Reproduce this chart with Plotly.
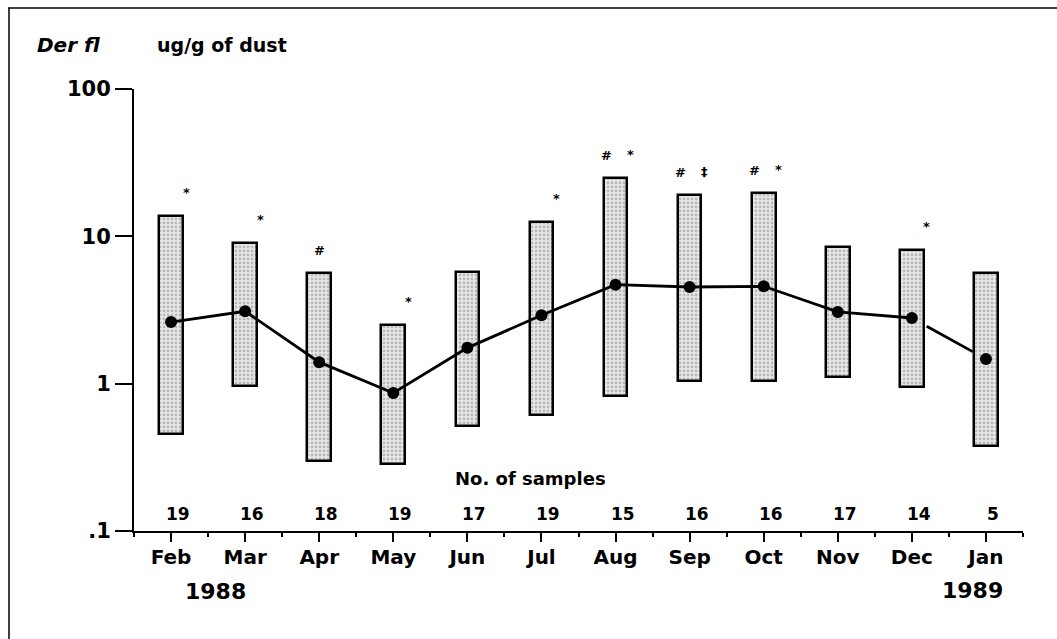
import math
import plotly.graph_objects as go

months = ["Feb", "Mar", "Apr", "May", "Jun", "Jul", "Aug", "Sep", "Oct", "Nov", "Dec", "Jan"]
high = [13.8, 9.0, 5.6, 2.5, 5.7, 12.6, 24.9, 19.0, 19.7, 8.5, 8.1, 5.6]
low = [0.455, 0.96, 0.297, 0.286, 0.513, 0.616, 0.83, 1.04, 1.04, 1.11, 0.95, 0.38]
median = [2.62, 3.10, 1.40, 0.865, 1.75, 2.91, 4.70, 4.53, 4.58, 3.07, 2.79, 1.47]
n_samples = [19, 16, 18, 19, 17, 19, 15, 16, 16, 17, 14, 5]
mark_left = ["", "", "#", "", "", "", "#", "#", "#", "", "", ""]
mark_right = ["*", "*", "", "*", "", "*", "*", "‡", "*", "", "*", ""]
ytick_vals = [0.1, 1, 10, 100]
ytick_text = [".1", "1", "10", "100"]
years = ["1988", "1989"]

FONT = "DejaVu Sans"
idx = list(range(len(months)))

W, H = 1057, 639
L, R, T, B = 134, 34, 89, 108
pw, ph = W - L - R, H - T - B


def px(xp):
    return (xp - L) / pw


def py(yp):
    return (H - B - yp) / ph


fig = go.Figure()

# boxes (range bars)
fig.add_trace(go.Bar(
    x=idx,
    y=[h - l for h, l in zip(high, low)],
    base=low,
    width=0.32,
    marker=dict(
        color="#e0e0e0",
        line=dict(color="black", width=2.5),
        pattern=dict(shape=".", size=4, solidity=0.4, fgcolor="#8a8a8a", bgcolor="#e9e9e9"),
    ),
    showlegend=False,
    hoverinfo="skip",
))

# median line Feb..Dec
fig.add_trace(go.Scatter(
    x=idx[:11], y=median[:11], mode="lines+markers",
    line=dict(color="black", width=2.8),
    marker=dict(color="black", size=12),
    showlegend=False,
))

# broken segment Dec -> Jan
l0, l1 = math.log10(median[10]), math.log10(median[11])
seg_t = [0.2, 0.82]
fig.add_trace(go.Scatter(
    x=[10 + t for t in seg_t],
    y=[10 ** (l0 + t * (l1 - l0)) for t in seg_t],
    mode="lines", line=dict(color="black", width=2.8),
    showlegend=False,
))
fig.add_trace(go.Scatter(
    x=[11], y=[median[11]], mode="markers",
    marker=dict(color="black", size=12), showlegend=False,
))

ann = []
for i in idx:
    top = math.log10(high[i])
    if mark_left[i]:
        both = bool(mark_right[i])
        ann.append(dict(x=i, y=top, xref="x", yref="y", text="<b>" + mark_left[i] + "</b>",
                        showarrow=False, xshift=-9 if both else 0, yshift=13, yanchor="bottom",
                        font=dict(family=FONT, size=13, color="black")))
    if mark_right[i]:
        ann.append(dict(x=i, y=top, xref="x", yref="y", text="<b>" + mark_right[i] + "</b>",
                        showarrow=False, xshift=15, yshift=14, yanchor="bottom",
                        font=dict(family=FONT, size=13, color="black")))
    ann.append(dict(x=i, y=py(514), xref="x", yref="paper", text="<b>%d</b>" % n_samples[i],
                    showarrow=False, xshift=7, yanchor="middle",
                    font=dict(family=FONT, size=17, color="black")))

ann.append(dict(x=px(530), y=py(478), xref="paper", yref="paper", text="<b>No. of samples</b>",
                showarrow=False, yanchor="middle", xanchor="center",
                font=dict(family=FONT, size=18, color="black")))
ann.append(dict(x=px(215), y=py(591), xref="paper", yref="paper", text="<b>" + years[0] + "</b>",
                showarrow=False, yanchor="middle", xanchor="center",
                font=dict(family=FONT, size=22, color="black")))
ann.append(dict(x=px(972), y=py(590), xref="paper", yref="paper", text="<b>" + years[1] + "</b>",
                showarrow=False, yanchor="middle", xanchor="center",
                font=dict(family=FONT, size=22, color="black")))
ann.append(dict(x=px(35), y=py(45), xref="paper", yref="paper", text="<b><i>Der fl</i></b>",
                showarrow=False, xanchor="left", yanchor="middle",
                font=dict(family=FONT, size=20, color="black")))
ann.append(dict(x=px(155), y=py(45), xref="paper", yref="paper", text="<b>ug/g of dust</b>",
                showarrow=False, xanchor="left", yanchor="middle",
                font=dict(family=FONT, size=19, color="black")))

fig.add_shape(type="line", xref="paper", yref="paper", x0=px(9), x1=px(9), y0=py(8), y1=py(639),
              line=dict(color="black", width=1.5))
fig.add_shape(type="line", xref="paper", yref="paper", x0=px(8), x1=px(1057), y0=py(8), y1=py(8),
              line=dict(color="black", width=1.5))

fig.update_layout(
    width=W, height=H,
    margin=dict(l=L, r=R, t=T, b=B),
    paper_bgcolor="white", plot_bgcolor="white",
    font=dict(family=FONT, color="black"),
    bargap=0,
    annotations=ann,
    xaxis=dict(
        range=[-0.5, 11.5], tickmode="array", tickvals=idx,
        ticktext=["<b>%s</b>" % m for m in months],
        ticks="outside", ticklen=9, tickwidth=2, tickcolor="black",
        showline=True, linecolor="black", linewidth=2, showgrid=False, zeroline=False,
        tickfont=dict(family=FONT, size=20, color="black"),
        ticklabelstandoff=-2,
        minor=dict(tickvals=[i - 0.5 for i in range(13)], ticks="outside", ticklen=4,
                   tickwidth=2, tickcolor="black"),
    ),
    yaxis=dict(
        type="log", range=[-1, 2], tickmode="array", tickvals=ytick_vals,
        ticktext=["<b>%s</b>" % t for t in ytick_text],
        ticks="outside", ticklen=17, tickwidth=2, tickcolor="black",
        showline=True, linecolor="black", linewidth=2, showgrid=False, zeroline=False,
        tickfont=dict(family=FONT, size=21, color="black"),
    ),
)

fig.write_html("out.html", config={"displayModeBar": False},
               post_script="document.body.style.margin='0';")
